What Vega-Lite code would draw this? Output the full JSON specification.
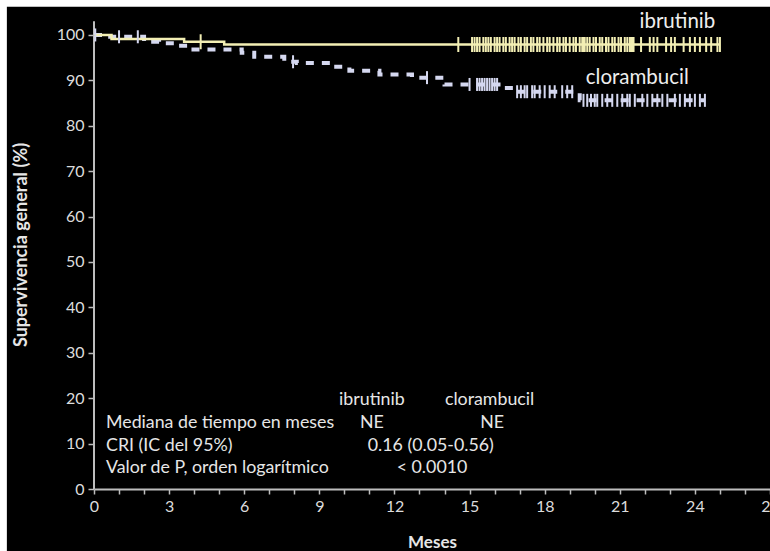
{
  "$schema": "https://vega.github.io/schema/vega-lite/v6.json",
  "width": 676,
  "height": 489,
  "autosize": {"type": "none"},
  "padding": {"left": 94, "top": 0, "right": 0, "bottom": 62},
  "background": "#000000",
  "config": {
    "view": {"stroke": null},
    "font": "Lato",
    "text": {"font": "Lato"}
  },
  "resolve": {"axis": {"x": "independent"}},
  "datasets": {
    "curves": [
      {"g": "ibrutinib", "m": 0, "s": 100},
      {"g": "ibrutinib", "m": 0.7, "s": 99.1},
      {"g": "ibrutinib", "m": 3.6, "s": 98.5},
      {"g": "ibrutinib", "m": 5.2, "s": 97.9},
      {"g": "ibrutinib", "m": 25.0, "s": 97.9},
      {"g": "clorambucil", "m": 0, "s": 100},
      {"g": "clorambucil", "m": 0.4, "s": 99.6},
      {"g": "clorambucil", "m": 2.0, "s": 98.5},
      {"g": "clorambucil", "m": 2.6, "s": 98.2},
      {"g": "clorambucil", "m": 3.2, "s": 97.6},
      {"g": "clorambucil", "m": 3.8, "s": 96.8},
      {"g": "clorambucil", "m": 5.9, "s": 96.1},
      {"g": "clorambucil", "m": 6.4, "s": 95.2},
      {"g": "clorambucil", "m": 7.6, "s": 94.1},
      {"g": "clorambucil", "m": 8.1, "s": 93.8},
      {"g": "clorambucil", "m": 9.5, "s": 93.0},
      {"g": "clorambucil", "m": 10.2, "s": 92.1},
      {"g": "clorambucil", "m": 11.4, "s": 91.3},
      {"g": "clorambucil", "m": 12.7, "s": 90.6},
      {"g": "clorambucil", "m": 14.0, "s": 89.1},
      {"g": "clorambucil", "m": 16.3, "s": 88.3},
      {"g": "clorambucil", "m": 16.8, "s": 87.5},
      {"g": "clorambucil", "m": 19.4, "s": 85.6},
      {"g": "clorambucil", "m": 24.4, "s": 85.6}
    ],
    "censors": [
      {"g": "ibrutinib", "m": 4.26, "s": 98.5},
      {"g": "ibrutinib", "m": 14.55, "s": 97.9},
      {"g": "ibrutinib", "m": 15.1, "s": 97.9},
      {"g": "ibrutinib", "m": 15.2, "s": 97.9},
      {"g": "ibrutinib", "m": 15.3, "s": 97.9},
      {"g": "ibrutinib", "m": 15.4, "s": 97.9},
      {"g": "ibrutinib", "m": 15.55, "s": 97.9},
      {"g": "ibrutinib", "m": 15.65, "s": 97.9},
      {"g": "ibrutinib", "m": 15.75, "s": 97.9},
      {"g": "ibrutinib", "m": 15.85, "s": 97.9},
      {"g": "ibrutinib", "m": 16.0, "s": 97.9},
      {"g": "ibrutinib", "m": 16.1, "s": 97.9},
      {"g": "ibrutinib", "m": 16.2, "s": 97.9},
      {"g": "ibrutinib", "m": 16.35, "s": 97.9},
      {"g": "ibrutinib", "m": 16.45, "s": 97.9},
      {"g": "ibrutinib", "m": 16.6, "s": 97.9},
      {"g": "ibrutinib", "m": 16.7, "s": 97.9},
      {"g": "ibrutinib", "m": 16.8, "s": 97.9},
      {"g": "ibrutinib", "m": 16.95, "s": 97.9},
      {"g": "ibrutinib", "m": 17.05, "s": 97.9},
      {"g": "ibrutinib", "m": 17.2, "s": 97.9},
      {"g": "ibrutinib", "m": 17.3, "s": 97.9},
      {"g": "ibrutinib", "m": 17.45, "s": 97.9},
      {"g": "ibrutinib", "m": 17.55, "s": 97.9},
      {"g": "ibrutinib", "m": 17.7, "s": 97.9},
      {"g": "ibrutinib", "m": 17.8, "s": 97.9},
      {"g": "ibrutinib", "m": 17.95, "s": 97.9},
      {"g": "ibrutinib", "m": 18.1, "s": 97.9},
      {"g": "ibrutinib", "m": 18.2, "s": 97.9},
      {"g": "ibrutinib", "m": 18.35, "s": 97.9},
      {"g": "ibrutinib", "m": 18.5, "s": 97.9},
      {"g": "ibrutinib", "m": 18.6, "s": 97.9},
      {"g": "ibrutinib", "m": 18.75, "s": 97.9},
      {"g": "ibrutinib", "m": 18.85, "s": 97.9},
      {"g": "ibrutinib", "m": 19.0, "s": 97.9},
      {"g": "ibrutinib", "m": 19.15, "s": 97.9},
      {"g": "ibrutinib", "m": 19.25, "s": 97.9},
      {"g": "ibrutinib", "m": 19.4, "s": 97.9},
      {"g": "ibrutinib", "m": 19.5, "s": 97.9},
      {"g": "ibrutinib", "m": 19.55, "s": 97.9},
      {"g": "ibrutinib", "m": 19.6, "s": 97.9},
      {"g": "ibrutinib", "m": 19.7, "s": 97.9},
      {"g": "ibrutinib", "m": 19.8, "s": 97.9},
      {"g": "ibrutinib", "m": 19.95, "s": 97.9},
      {"g": "ibrutinib", "m": 20.05, "s": 97.9},
      {"g": "ibrutinib", "m": 20.2, "s": 97.9},
      {"g": "ibrutinib", "m": 20.3, "s": 97.9},
      {"g": "ibrutinib", "m": 20.45, "s": 97.9},
      {"g": "ibrutinib", "m": 20.55, "s": 97.9},
      {"g": "ibrutinib", "m": 20.7, "s": 97.9},
      {"g": "ibrutinib", "m": 20.8, "s": 97.9},
      {"g": "ibrutinib", "m": 20.95, "s": 97.9},
      {"g": "ibrutinib", "m": 21.05, "s": 97.9},
      {"g": "ibrutinib", "m": 21.2, "s": 97.9},
      {"g": "ibrutinib", "m": 21.3, "s": 97.9},
      {"g": "ibrutinib", "m": 21.4, "s": 97.9},
      {"g": "ibrutinib", "m": 21.45, "s": 97.9},
      {"g": "ibrutinib", "m": 21.5, "s": 97.9},
      {"g": "ibrutinib", "m": 21.55, "s": 97.9},
      {"g": "ibrutinib", "m": 21.85, "s": 97.9},
      {"g": "ibrutinib", "m": 22.2, "s": 97.9},
      {"g": "ibrutinib", "m": 22.35, "s": 97.9},
      {"g": "ibrutinib", "m": 22.5, "s": 97.9},
      {"g": "ibrutinib", "m": 22.85, "s": 97.9},
      {"g": "ibrutinib", "m": 23.05, "s": 97.9},
      {"g": "ibrutinib", "m": 23.2, "s": 97.9},
      {"g": "ibrutinib", "m": 23.55, "s": 97.9},
      {"g": "ibrutinib", "m": 23.8, "s": 97.9},
      {"g": "ibrutinib", "m": 24.0, "s": 97.9},
      {"g": "ibrutinib", "m": 24.2, "s": 97.9},
      {"g": "ibrutinib", "m": 24.45, "s": 97.9},
      {"g": "ibrutinib", "m": 24.65, "s": 97.9},
      {"g": "ibrutinib", "m": 24.9, "s": 97.9},
      {"g": "ibrutinib", "m": 25.0, "s": 97.9},
      {"g": "clorambucil", "m": 0.05, "s": 100},
      {"g": "clorambucil", "m": 1.0, "s": 99.6},
      {"g": "clorambucil", "m": 1.75, "s": 99.6},
      {"g": "clorambucil", "m": 7.95, "s": 94.1},
      {"g": "clorambucil", "m": 13.3, "s": 90.6},
      {"g": "clorambucil", "m": 15.0, "s": 89.1},
      {"g": "clorambucil", "m": 15.3, "s": 89.1},
      {"g": "clorambucil", "m": 15.4, "s": 89.1},
      {"g": "clorambucil", "m": 15.5, "s": 89.1},
      {"g": "clorambucil", "m": 15.6, "s": 89.1},
      {"g": "clorambucil", "m": 15.7, "s": 89.1},
      {"g": "clorambucil", "m": 15.8, "s": 89.1},
      {"g": "clorambucil", "m": 15.9, "s": 89.1},
      {"g": "clorambucil", "m": 16.0, "s": 89.1},
      {"g": "clorambucil", "m": 16.1, "s": 89.1},
      {"g": "clorambucil", "m": 16.9, "s": 87.5},
      {"g": "clorambucil", "m": 17.05, "s": 87.5},
      {"g": "clorambucil", "m": 17.2, "s": 87.5},
      {"g": "clorambucil", "m": 17.3, "s": 87.5},
      {"g": "clorambucil", "m": 17.5, "s": 87.5},
      {"g": "clorambucil", "m": 17.6, "s": 87.5},
      {"g": "clorambucil", "m": 17.8, "s": 87.5},
      {"g": "clorambucil", "m": 18.0, "s": 87.5},
      {"g": "clorambucil", "m": 18.2, "s": 87.5},
      {"g": "clorambucil", "m": 18.4, "s": 87.5},
      {"g": "clorambucil", "m": 18.7, "s": 87.5},
      {"g": "clorambucil", "m": 18.9, "s": 87.5},
      {"g": "clorambucil", "m": 19.1, "s": 87.5},
      {"g": "clorambucil", "m": 19.55, "s": 85.6},
      {"g": "clorambucil", "m": 19.7, "s": 85.6},
      {"g": "clorambucil", "m": 19.85, "s": 85.6},
      {"g": "clorambucil", "m": 20.0, "s": 85.6},
      {"g": "clorambucil", "m": 20.1, "s": 85.6},
      {"g": "clorambucil", "m": 20.3, "s": 85.6},
      {"g": "clorambucil", "m": 20.5, "s": 85.6},
      {"g": "clorambucil", "m": 20.7, "s": 85.6},
      {"g": "clorambucil", "m": 20.9, "s": 85.6},
      {"g": "clorambucil", "m": 21.1, "s": 85.6},
      {"g": "clorambucil", "m": 21.3, "s": 85.6},
      {"g": "clorambucil", "m": 21.4, "s": 85.6},
      {"g": "clorambucil", "m": 21.6, "s": 85.6},
      {"g": "clorambucil", "m": 21.9, "s": 85.6},
      {"g": "clorambucil", "m": 22.1, "s": 85.6},
      {"g": "clorambucil", "m": 22.3, "s": 85.6},
      {"g": "clorambucil", "m": 22.5, "s": 85.6},
      {"g": "clorambucil", "m": 22.7, "s": 85.6},
      {"g": "clorambucil", "m": 22.9, "s": 85.6},
      {"g": "clorambucil", "m": 23.2, "s": 85.6},
      {"g": "clorambucil", "m": 23.4, "s": 85.6},
      {"g": "clorambucil", "m": 23.6, "s": 85.6},
      {"g": "clorambucil", "m": 23.8, "s": 85.6},
      {"g": "clorambucil", "m": 24.0, "s": 85.6},
      {"g": "clorambucil", "m": 24.2, "s": 85.6},
      {"g": "clorambucil", "m": 24.4, "s": 85.6}
    ],
    "labelsLeft": [
      {"tx": 0.48, "ty": 14.5, "label": "Mediana de tiempo en meses"},
      {"tx": 0.48, "ty": 9.5, "label": "CRI (IC del 95%)"},
      {"tx": 0.48, "ty": 4.6, "label": "Valor de P, orden logarítmico"}
    ],
    "labelsCenter": [
      {"tx": 11.1, "ty": 19.6, "label": "ibrutinib"},
      {"tx": 15.8, "ty": 19.6, "label": "clorambucil"},
      {"tx": 11.1, "ty": 14.5, "label": "NE"},
      {"tx": 15.9, "ty": 14.5, "label": "NE"},
      {"tx": 13.45, "ty": 9.5, "label": "0.16 (0.05-0.56)"},
      {"tx": 13.5, "ty": 4.6, "label": "< 0.0010"}
    ],
    "curveLabels": [
      {"tx": 23.3, "ty": 102.9, "label": "ibrutinib"},
      {"tx": 21.7, "ty": 90.5, "label": "clorambucil"}
    ]
  },
  "layer": [
    {
      "data": {"values": [{"x1": -3.76, "x2": 27.2, "y1": 106.2, "y2": 108}, {"x1": -3.76, "x2": -3.48, "y1": -14, "y2": 108}]},
      "mark": {"type": "rect", "color": "#ffffff", "clip": false},
      "encoding": {
        "x": {"field": "x1", "type": "quantitative", "scale": {"domain": [0, 27], "nice": false, "zero": false}, "axis": {
          "orient": "bottom",
          "values": [0, 3, 6, 9, 12, 15, 18, 21, 24, 27],
          "grid": false, "zindex": 1,
          "domainColor": "#bdbdbd", "domainWidth": 2,
          "tickColor": "#bdbdbd", "tickSize": 5, "tickWidth": 1.5,
          "labelColor": "#dcdcdc", "labelFontSize": 16, "labelFont": "Lato", "labelPadding": 4,
          "labelFlush": false, "labelOverlap": false,
          "title": "Meses", "titleColor": "#e6e6e6", "titleFontSize": 17, "titleFont": "Lato", "titleFontWeight": "bold", "titlePadding": 20
        }},
        "x2": {"field": "x2"},
        "y": {"field": "y1", "type": "quantitative", "scale": {"domain": [0, 107.7], "nice": false, "zero": false}, "axis": {
          "values": [0, 10, 20, 30, 40, 50, 60, 70, 80, 90, 100],
          "grid": false, "zindex": 1, "domain": false,
          "tickColor": "#bdbdbd", "tickSize": 6, "tickWidth": 1.5,
          "labelColor": "#dcdcdc", "labelFontSize": 16, "labelFont": "Lato", "labelPadding": 4,
          "title": "Supervivencia general (%)", "titleColor": "#e6e6e6", "titleFontSize": 18, "titleFont": "Lato", "titleFontWeight": "bold", "titlePadding": 26
        }},
        "y2": {"field": "y2"}
      }
    },
    {
      "data": {"values": [{"x": 0, "y1": 0, "y2": 103}]},
      "mark": {"type": "rule", "color": "#bdbdbd", "strokeWidth": 2},
      "encoding": {
        "x": {"field": "x", "type": "quantitative", "axis": {
          "orient": "bottom",
          "values": [1, 2, 4, 5, 7, 8, 10, 11, 13, 14, 16, 17, 19, 20, 22, 23, 25, 26],
          "labels": false, "domain": false, "grid": false, "zindex": 1,
          "tickColor": "#bdbdbd", "tickSize": 5, "tickWidth": 1.5,
          "title": null
        }},
        "y": {"field": "y1", "type": "quantitative"},
        "y2": {"field": "y2"}
      }
    },
    {
      "data": {"name": "curves"},
      "transform": [{"filter": "datum.g === 'clorambucil'"}],
      "mark": {"type": "line", "interpolate": "step-after", "color": "#d5d8f0", "strokeWidth": 4, "strokeDash": [8, 8]},
      "encoding": {
        "x": {"field": "m", "type": "quantitative", "axis": null},
        "y": {"field": "s", "type": "quantitative"}
      }
    },
    {
      "data": {"name": "curves"},
      "transform": [{"filter": "datum.g === 'ibrutinib'"}],
      "mark": {"type": "line", "interpolate": "step-after", "color": "#f3efb4", "strokeWidth": 2.5},
      "encoding": {
        "x": {"field": "m", "type": "quantitative", "axis": null},
        "y": {"field": "s", "type": "quantitative"}
      }
    },
    {
      "data": {"name": "censors"},
      "transform": [{"filter": "datum.g === 'clorambucil'"}],
      "mark": {"type": "tick", "orient": "vertical", "color": "#d5d8f0", "size": 13, "thickness": 2, "opacity": 1},
      "encoding": {
        "x": {"field": "m", "type": "quantitative", "axis": null},
        "y": {"field": "s", "type": "quantitative"}
      }
    },
    {
      "data": {"name": "censors"},
      "transform": [{"filter": "datum.g === 'ibrutinib'"}],
      "mark": {"type": "tick", "orient": "vertical", "color": "#f3efb4", "size": 15, "thickness": 2, "opacity": 1},
      "encoding": {
        "x": {"field": "m", "type": "quantitative", "axis": null},
        "y": {"field": "s", "type": "quantitative"}
      }
    },
    {
      "data": {"name": "labelsLeft"},
      "mark": {"type": "text", "align": "left", "baseline": "middle", "font": "Lato", "fontSize": 17.8, "color": "#e6e6e6"},
      "encoding": {
        "x": {"field": "tx", "type": "quantitative", "axis": null},
        "y": {"field": "ty", "type": "quantitative"},
        "text": {"field": "label"}
      }
    },
    {
      "data": {"name": "labelsCenter"},
      "mark": {"type": "text", "align": "center", "baseline": "middle", "font": "Lato", "fontSize": 17.8, "color": "#e6e6e6"},
      "encoding": {
        "x": {"field": "tx", "type": "quantitative", "axis": null},
        "y": {"field": "ty", "type": "quantitative"},
        "text": {"field": "label"}
      }
    },
    {
      "data": {"name": "curveLabels"},
      "mark": {"type": "text", "align": "center", "baseline": "middle", "font": "Lato", "fontSize": 20.5, "color": "#eeeeee"},
      "encoding": {
        "x": {"field": "tx", "type": "quantitative", "axis": null},
        "y": {"field": "ty", "type": "quantitative"},
        "text": {"field": "label"}
      }
    }
  ]
}
